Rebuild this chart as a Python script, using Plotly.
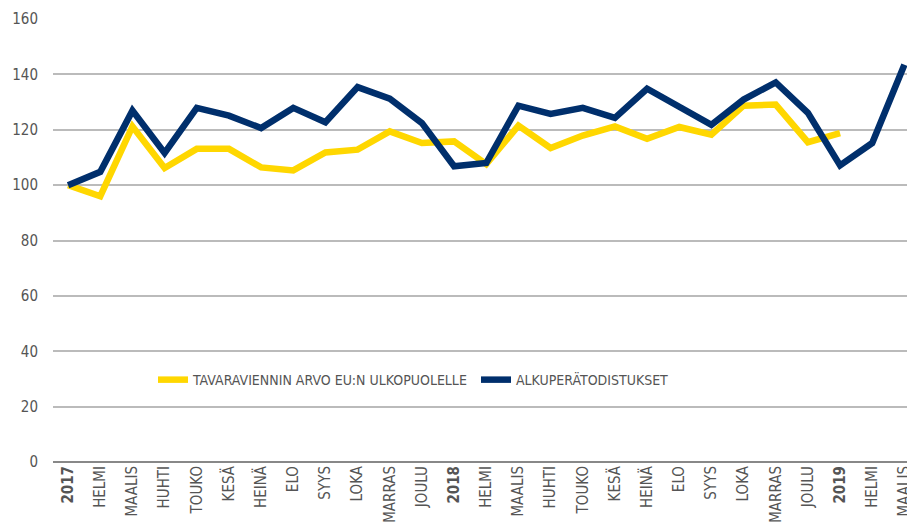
import plotly.graph_objects as go

labels = ["2017", "HELMI", "MAALIS", "HUHTI", "TOUKO", "KESÄ", "HEINÄ", "ELO", "SYYS", "LOKA",
          "MARRAS", "JOULU", "2018", "HELMI", "MAALIS", "HUHTI", "TOUKO", "KESÄ", "HEINÄ", "ELO",
          "SYYS", "LOKA", "MARRAS", "JOULU", "2019", "HELMI", "MAALIS"]
years = {"2017", "2018", "2019"}

export_value = [100, 96, 121.2, 106.2, 113.1, 113.1, 106.4, 105.3, 111.8, 112.8,
                119.4, 115.2, 115.8, 107.6, 121.5, 113.4, 117.9, 121.2, 116.7, 121,
                118.2, 128.7, 129.1, 115.5, 118.8, None, None]
certificates = [100, 104.8, 126.9, 111.6, 127.9, 125.1, 120.6, 127.9, 122.7, 135.4,
                131.2, 122.4, 106.8, 108.0, 128.7, 125.7, 127.9, 124.3, 134.8, 128.4,
                121.8, 130.9, 137.1, 126.1, 107.1, 115.2, 143.5]

series_names = ["TAVARAVIENNIN ARVO EU:N ULKOPUOLELLE", "ALKUPERÄTODISTUKSET"]
colors = ["#FFD700", "#002F6C"]

x = list(range(len(labels)))
ticktext = [f"<b>{l}</b>" if l in years else l for l in labels]

FONT = "DejaVu Sans Condensed"

fig = go.Figure()
for name, vals, col in zip(series_names, [export_value, certificates], colors):
    fig.add_trace(go.Scatter(x=x, y=vals, mode="lines", name=name,
                             line=dict(color=col, width=6.5), connectgaps=False))

fig.update_layout(
    width=907, height=522,
    margin=dict(l=45, r=0, t=11, b=68),
    paper_bgcolor="white", plot_bgcolor="white",
    font=dict(family=FONT, color="#555555", size=14),
    showlegend=True,
    legend=dict(orientation="h", x=0.116, y=0.185, xanchor="left", yanchor="middle",
                bgcolor="rgba(0,0,0,0)", font=dict(size=14, color="#555555"),
                entrywidth=278, entrywidthmode="pixels", traceorder="normal"),
    xaxis=dict(tickmode="array", tickvals=x, ticktext=ticktext, tickangle=-90,
               range=[-0.47, 26.33], showgrid=False, zeroline=False, automargin=False,
               showline=False, ticks="", tickfont=dict(size=15, color="#555555")),
    yaxis=dict(range=[0, 160], tickvals=[0, 20, 40, 60, 80, 100, 120, 140, 160],
               showgrid=True, gridcolor="#BBBBBB", gridwidth=1.5, automargin=False,
               zeroline=True, zerolinecolor="#888888", zerolinewidth=1.5,
               ticks="", ticklabelstandoff=14, tickfont=dict(size=15, color="#555555")),
)

fig.write_html("out.html")
